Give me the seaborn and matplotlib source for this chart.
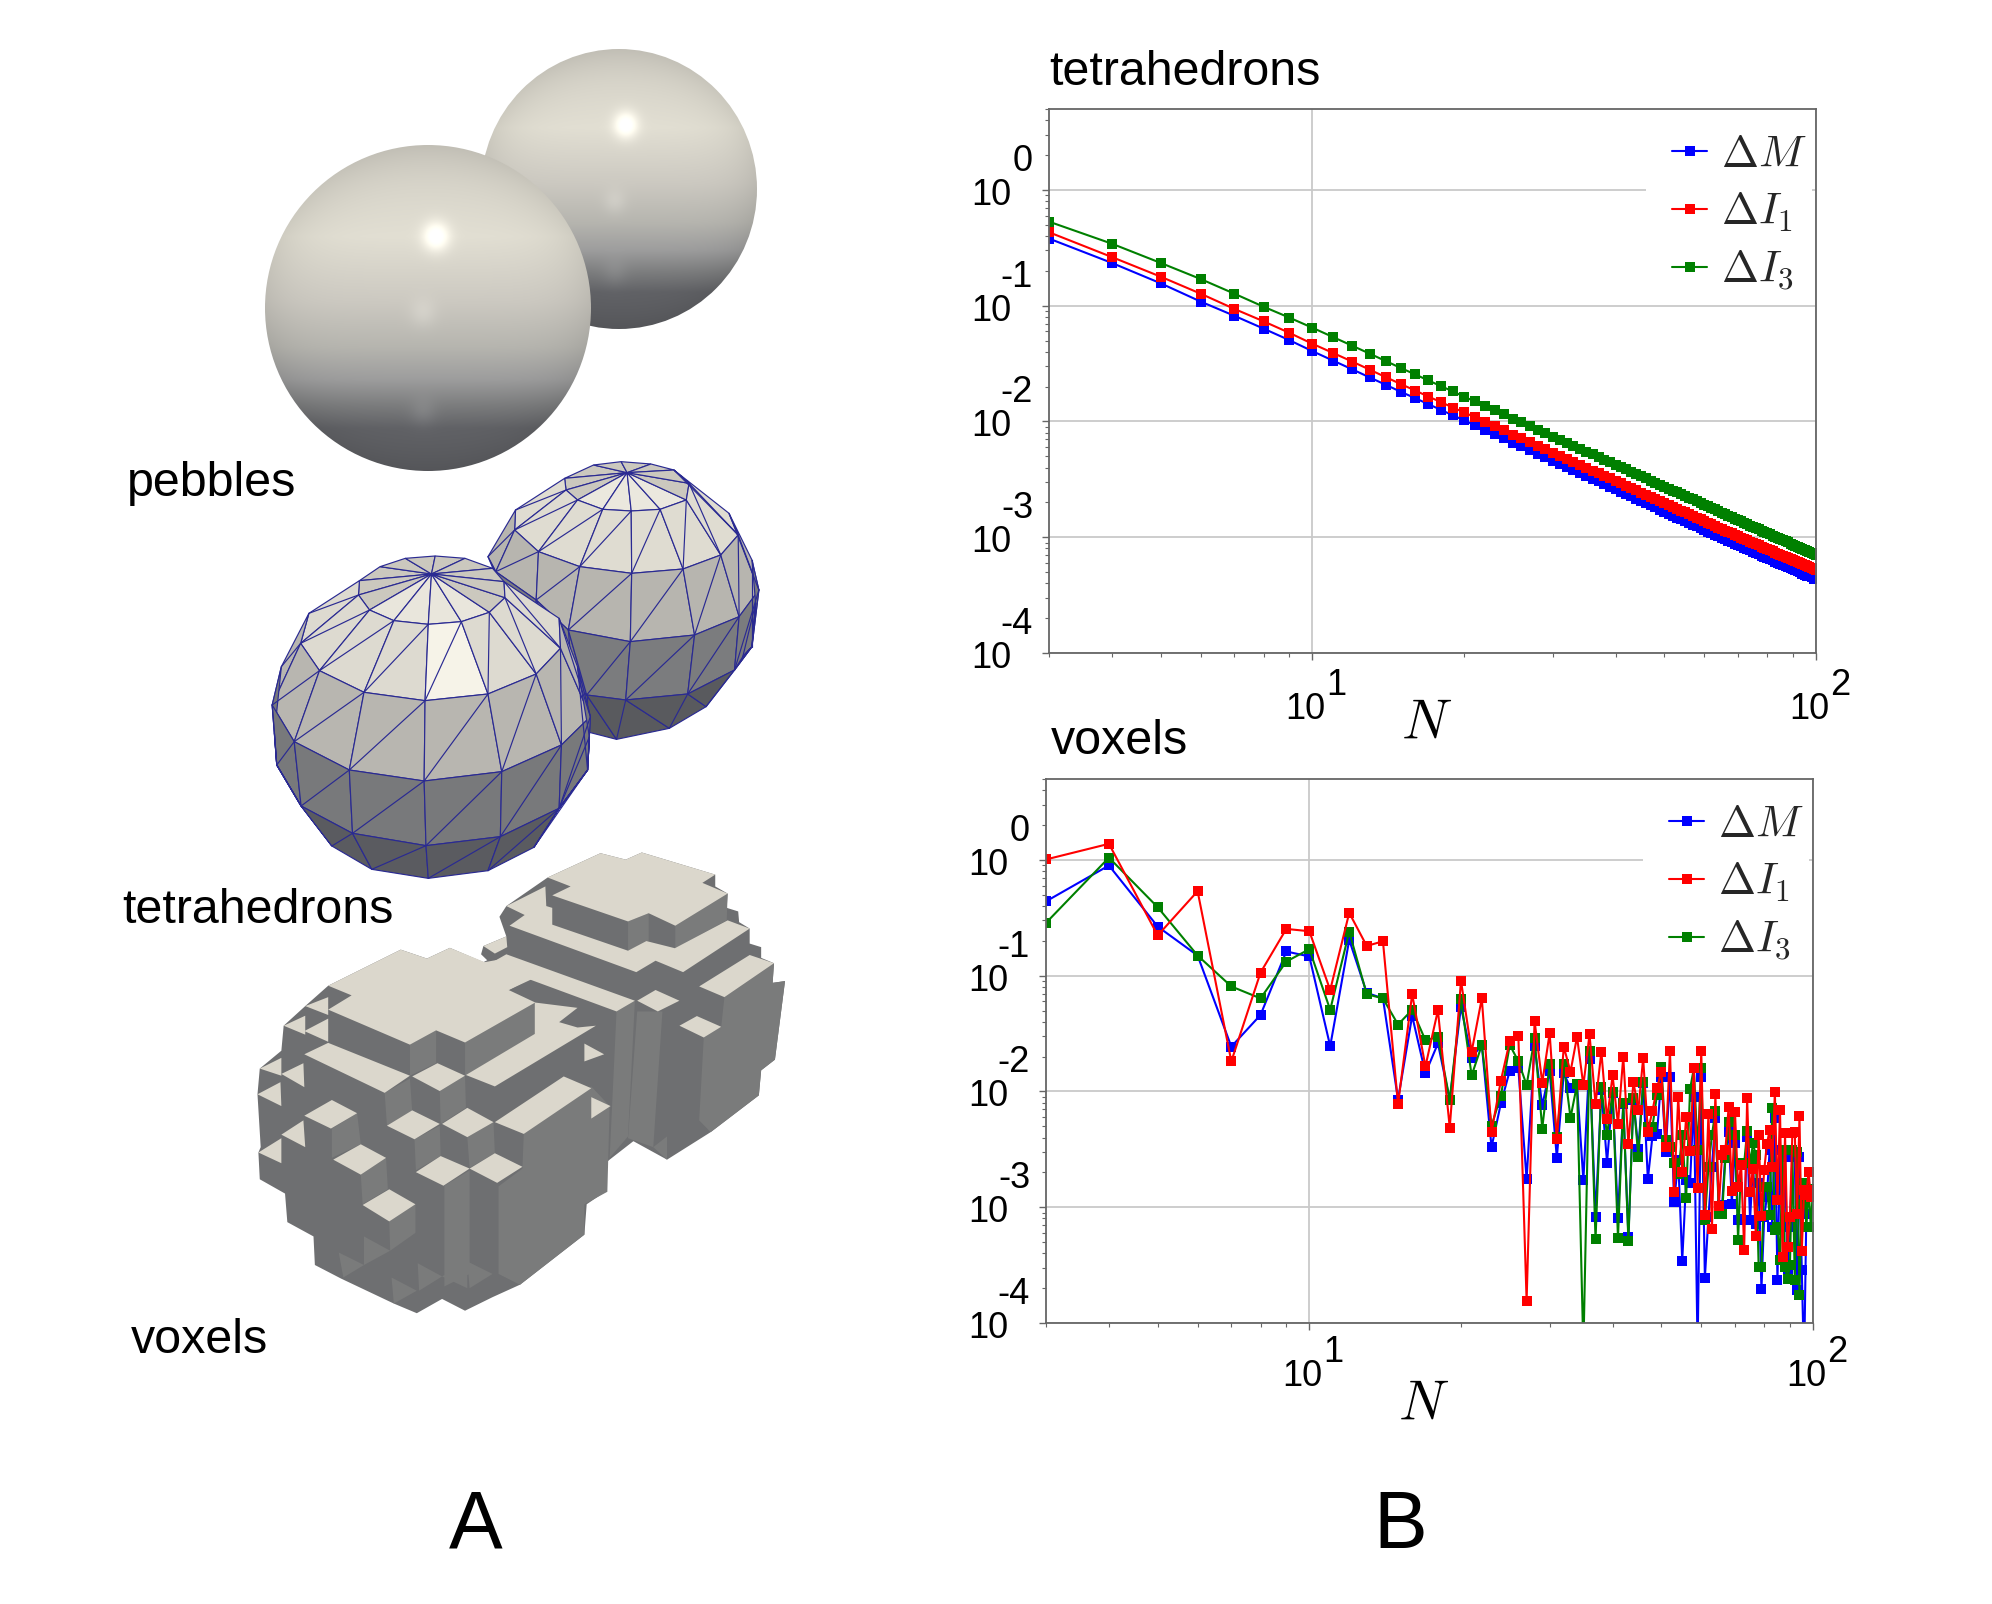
import numpy as np
import pandas as pd
import matplotlib
matplotlib.use("Agg")
import matplotlib.pyplot as plt
from matplotlib.patches import Ellipse, Polygon, Rectangle
import matplotlib.ticker as mticker
import seaborn as sns

N = list(range(3, 101))
LBL_M, LBL_I1, LBL_I3 = r"$\Delta M$", r"$\Delta I_1$", r"$\Delta I_3$"
BLUE, RED, GREEN = "#0000ff", "#ff0000", "#008000"

tet_M = [.38,.234,.156,.1086,.0818,.0634,.0504,.0405,
 .0335,.0282,.0240,.0207,.0180,.0159,.0141,.0126,.0113,.01025,
 .00930,.00848,.00776,.00713,.00657,.00608,.00564,.00525,.00490,.00458,
 .00429,.00403,.00380,.00358,.00338,.00320,.00303,.00287,.00273,.00260,
 .00248,.00236,.00225,.00215,.00206,.00197,.00189,.00181,.00173,.00166,
 .00160,.00154,.00148,.00143,.00138,.00133,.00128,.00124,.00120,.00116,
 .00112,.00108,.00105,.00102,.000988,.000959,.000931,.000904,.000879,.000855,
 .000832,.000810,.000789,.000769,.000749,.000730,.000712,.000694,.000677,.000661,
 .000646,.000631,.000616,.000602,.000589,.000576,.000563,.000551,.000539,.000528,
 .000517,.000506,.000496,.000486,.000476,.000467,.000458,.000449,.000440,.000432]
tet_I1 = [.431,.263,.178,.127,.0938,.0733,.0583,.0469,
 .0390,.0329,.0280,.0241,.0210,.0185,.0164,.0147,.0132,.0120,
 .0109,.00993,.00909,.00836,.00771,.00713,.00662,.00616,.00575,.00538,
 .00504,.00474,.00447,.00421,.00398,.00377,.00357,.00339,.00322,.00307,
 .00292,.00279,.00266,.00254,.00243,.00233,.00223,.00214,.00205,.00197,
 .00190,.00183,.00176,.00170,.00164,.00158,.00153,.00148,.00143,.00138,
 .00133,.00129,.00125,.00121,.00118,.00114,.00111,.00108,.00105,.00102,
 .000993,.000966,.000941,.000917,.000894,.000872,.000851,.000830,.000811,.000792,
 .000773,.000755,.000738,.000721,.000705,.000690,.000675,.000661,.000647,.000633,
 .000620,.000607,.000595,.000583,.000572,.000561,.000550,.000539,.000529,.000519]
tet_I3 = [.532,.343,.234,.170,.127,.098,.0789,.0645,
 .0535,.0451,.0385,.0332,.0289,.0255,.0226,.0202,.0182,.0164,
 .0149,.0136,.0125,.0115,.0106,.00980,.00910,.00848,.00792,.00741,
 .00695,.00654,.00616,.00581,.00549,.00520,.00493,.00468,.00445,.00424,
 .00404,.00385,.00368,.00352,.00337,.00322,.00309,.00296,.00284,.00273,
 .00263,.00253,.00244,.00235,.00227,.00219,.00212,.00205,.00198,.00191,
 .00185,.00179,.00174,.00168,.00163,.00158,.00154,.00149,.00145,.00141,
 .00137,.00133,.00130,.00126,.00123,.00120,.00117,.00114,.00111,.00108,
 .00106,.00103,.00101,.000985,.000963,.000941,.000921,.000901,.000881,.000863,
 .000845,.000827,.000810,.000794,.000778,.000762,.000747,.000733,.000719,.000705]

# voxel errors, read as decades on the log axis
vox_M_log = [-.358,-.048,-.576,-.826,-1.613,-1.339,-.791,-.834,-1.609,-.691,-1.148,-1.196,-2.07,-1.347,-1.843,-1.585,-2.074,
 -1.268,-1.709,-1.599,-2.481,-2.104,-1.821,-1.801,-2.758,-1.608,-2.121,
 -1.824,-2.573,-1.844,-1.968,-1.945,-2.769,-1.717,-3.083,-1.988,-2.614,
 -2.017,-3.092,-2.109,-3.256,-2.075,-2.498,-1.931,-2.758,-2.386,-2.369,
 -1.873,-2.521,-1.873,-2.954,-2.594,-3.461,-2.766,-2.795,-2.046,-4.236,
 -1.873,-3.611,-3.083,-2.651,-2.233,-2.997,-2.983,-2.536,-2.349,-2.968,
 -2.449,-3.112,-3.098,-3.112,-2.392,-3.112,-2.622,-3.141,-2.795,-3.709,
 -3.083,-2.911,-2.507,-3.170,-2.228,-3.631,-2.507,-3.170,-2.565,-3.559,
 -3.170,-2.565,-2.565,-3.717,-2.565,-3.545,-4.380,-3.055,-2.911,-2.911,-2.853]
vox_I1_log = [.004,.139,-.652,-.27,-1.74,-.973,-.596,-.616,-1.124,-.457,-.743,-.703,-2.11,-1.16,-1.784,-1.299,-2.312,
 -1.043,-1.657,-1.196,-2.346,-1.908,-1.565,-1.519,-3.807,-1.389,-1.925,
 -1.496,-2.409,-1.614,-1.830,-1.527,-1.948,-1.507,-2.109,-1.657,-2.242,
 -1.862,-2.282,-1.700,-2.455,-1.919,-2.156,-1.712,-2.346,-2.167,-1.971,
 -1.830,-2.478,-1.648,-2.867,-2.049,-2.694,-2.219,-2.513,-1.795,-2.833,
 -1.648,-3.063,-2.193,-3.187,-2.023,-2.988,-2.550,-2.507,-2.132,-2.859,
 -2.176,-2.824,-2.637,-3.366,-2.058,-2.867,-2.671,-3.245,-2.372,-3.075,
 -2.680,-2.455,-2.334,-2.651,-2.003,-2.939,-2.156,-3.429,-2.363,-3.343,
 -3.083,-2.357,-2.349,-3.055,-2.210,-3.375,-2.853,-2.896,-2.694,-2.911,-2.853]
vox_I3_log = [-.544,.02,-.409,-.826,-1.093,-1.196,-.878,-.771,-1.295,-.62,-1.16,-1.196,-1.422,-1.295,-1.557,-1.53,-2.074,
 -1.205,-1.862,-1.599,-2.297,-2.037,-1.599,-1.738,-1.945,-1.542,-2.320,
 -1.766,-2.392,-1.764,-2.228,-1.939,-4.236,-1.648,-3.277,-1.960,-2.380,
 -2.003,-3.265,-2.104,-3.291,-2.060,-2.565,-1.922,-2.305,-2.305,-2.032,
 -1.787,-2.421,-2.478,-2.622,-2.717,-2.372,-2.919,-1.980,-1.801,-2.507,
 -1.801,-3.112,-2.651,-2.377,-2.170,-3.055,-3.055,-2.579,-2.268,-2.377,
 -2.377,-3.285,-2.622,-2.622,-2.340,-2.622,-2.449,-2.550,-3.516,-3.516,
 -2.824,-2.824,-3.063,-2.147,-3.199,-3.170,-3.458,-2.507,-3.516,-3.617,
 -3.501,-2.507,-3.631,-2.521,-3.755,-2.968,-2.795,-3.170,-2.839,-3.170,-2.839]

Y_DECADES = [0, -1, -2, -3, -4]
X_DECADES = [1, 2]

sns.set_theme(style="ticks")
plt.rcParams["font.family"] = ["Liberation Sans", "DejaVu Sans"]
plt.rcParams["mathtext.fontset"] = "cm"

W, H = 1992, 1604
fig = plt.figure(figsize=(W / 100, H / 100), dpi=100, facecolor="white")

# ---------------- panel A: rendered bodies -----------------
bg = fig.add_axes([0, 0, 1, 1], zorder=0)
bg.set_axis_off()

STOP_T = [0, .12, .28, .48, .62, .72, .80, .87, 1]
STOP_C = ["#d2cfc5", "#dad7cc", "#e2dfd3", "#ccc9c1", "#b6b5af", "#9d9d9d", "#7c7d7e", "#626367", "#5c5d61"]
STOP_RGB = np.array([matplotlib.colors.to_rgb(c) for c in STOP_C])


def sphere(cx, cy, rx, ry, spots):
    h = int(2 * ry) + 2
    w = int(2 * rx) + 2
    yy, xx = np.mgrid[-1:1:h * 1j, -1:1:w * 1j]
    t = (yy + 1) / 2
    img = np.stack([np.interp(t, STOP_T, STOP_RGB[:, i]) for i in range(3)], -1)
    r2 = np.clip(xx ** 2 + yy ** 2, 0, 1)
    img = img * (1 - 0.08 * r2 ** 3)[..., None]
    for sx, sy, size, amp in spots:
        g = amp * np.exp(-(((xx - sx) / size) ** 2 + ((yy - sy) / (size * 1.1)) ** 2))
        img = img + g[..., None]
    im = bg.imshow(np.clip(img, 0, 1), extent=(cx - rx, cx + rx, cy + ry, cy - ry),
                   aspect="auto", interpolation="bilinear", zorder=1)
    im.set_clip_path(Ellipse((cx, cy), 2 * rx, 2 * ry, transform=bg.transData))


sphere(619, 189, 138, 140, [(.05, -.46, .085, .22), (-.03, .09, .08, .05), (-.03, .60, .09, .04)])
sphere(428, 308, 163, 163, [(.05, -.44, .08, .22), (-.03, .03, .08, .05), (-.03, .64, .08, .05)])


def z5(pts):
    return [(100 + x / 2.178, 450 + y / 3) for x, y in pts]


def z6(pts):
    return [(100 + x / 2.178, 840 + y / 2.8) for x, y in pts]


EDGE = "#2a2a92"


def mesh(apex, back, rings, band_cols, back_col, cap_col, bright, z):
    for a, b in zip(back[:-1], back[1:]):
        bg.add_patch(Polygon(z5([apex, a, b]), fc=back_col, ec=EDGE, lw=.85, zorder=z))
    r1 = rings[0]
    for i, (a, b) in enumerate(zip(r1[:-1], r1[1:])):
        col = cap_col if 2 <= i <= 5 else back_col
        bg.add_patch(Polygon(z5([apex, a, b]), fc=col, ec=EDGE, lw=.85, zorder=z))
    for k in range(len(rings) - 1):
        ra, rb = rings[k], rings[k + 1]
        for i in range(len(ra) - 1):
            col = band_cols[k]
            if k == 0 and bright and i == 4:
                col = "#f6f3e8"
            bg.add_patch(Polygon(z5([ra[i], ra[i + 1], rb[i + 1], rb[i]]), fc=col, ec=EDGE, lw=.85, zorder=z))
            bg.plot(*zip(*z5([ra[i + 1], rb[i]])), color=EDGE, lw=.85, zorder=z + .1)


BACK_APEX = (1148, 68)
BACK_TOP = [(1012, 85), (1075, 45), (1135, 35), (1200, 42), (1250, 60)]
BACK_RINGS = [
    [(1012, 85), (1015, 120), (1040, 150), (1095, 178), (1157, 183), (1220, 178), (1277, 150), (1283, 100), (1250, 60)],
    [(905, 180), (903, 240), (955, 305), (1045, 350), (1158, 370), (1270, 357), (1352, 315), (1390, 255), (1370, 190)],
    [(845, 320), (862, 365), (950, 450), (1020, 540), (1155, 575), (1295, 555), (1392, 500), (1435, 420), (1420, 330)],
    [(900, 500), (930, 600), (1030, 700), (1060, 735), (1145, 750), (1280, 732), (1382, 660), (1420, 590), (1428, 460)],
    [(1000, 700), (1040, 800), (1060, 845), (1125, 868), (1240, 835), (1320, 770), (1382, 660), (1400, 620), (1420, 590)],
]
FRONT_APEX = (722, 372)
FRONT_TOP = [(565, 392), (610, 350), (665, 325), (730, 318), (795, 325), (855, 355), (880, 395)]
FRONT_RINGS = [
    [(565, 392), (563, 435), (587, 480), (640, 512), (715, 523), (787, 515), (848, 487), (882, 443), (880, 395)],
    [(455, 490), (437, 580), (478, 662), (575, 727), (708, 752), (845, 732), (950, 672), (1003, 595), (1000, 505)],
    [(395, 650), (375, 765), (423, 875), (543, 960), (706, 993), (875, 965), (1005, 885), (1068, 800), (1040, 650)],
    [(380, 850), (385, 945), (438, 1068), (550, 1150), (710, 1187), (872, 1160), (1000, 1075), (1062, 960), (1066, 860)],
    [(385, 945), (438, 1068), (505, 1188), (592, 1258), (715, 1285), (845, 1262), (945, 1192), (1000, 1075), (1062, 960)],
]
mesh(BACK_APEX, BACK_TOP, BACK_RINGS, ["#dfdcd1", "#b7b5af", "#7b7c7e", "#595a5e"], "#cbc8be", "#ebe8de", False, 3)
mesh(FRONT_APEX, FRONT_TOP, FRONT_RINGS, ["#dddad0", "#b8b6b0", "#78797b", "#5a5b60"], "#cbc8be", "#e9e6dc", True, 5)

VOX_TOP = "#dbd7cc"
VOX_DARK = "#6e6f71"
VOX_LITE = "#7a7b7b"
VOX_BACK = [(830, 320), (835, 297), (885, 270), (870, 215), (885, 185), (975, 105), (1090, 37), (1145, 55), (1180, 35),
            (1340, 97), (1340, 130), (1367, 150), (1365, 190), (1390, 200), (1392, 230), (1415, 248), (1415, 290),
            (1440, 300), (1440, 330), (1468, 345), (1465, 400), (1492, 395), (1470, 615), (1440, 645), (1435, 715),
            (1330, 818), (1235, 895), (1150, 835), (1105, 900), (1000, 800), (850, 345)]
VOX_FRONT = [(497, 408), (447, 465), (400, 520), (395, 590), (348, 640), (343, 712), (350, 860), (345, 875),
             (348, 950), (403, 990), (408, 1070), (465, 1110), (468, 1190), (525, 1228), (640, 1298), (690, 1325),
             (745, 1285), (795, 1318), (855, 1280), (915, 1245), (1055, 1105), (1060, 1020), (1100, 985),
             (1105, 900), (1165, 840), (1165, 450), (1040, 450), (950, 400), (885, 310), (835, 342), (762, 302),
             (712, 332), (655, 307)]
VOX_LITE_FACES = [
    [(923, 823), (1070, 690), (1110, 745), (1105, 985), (1055, 1020), (1055, 1105), (915, 1245), (868, 1215), (868, 970), (920, 920)],
    [(675, 573), (732, 533), (732, 625), (675, 660)], [(795, 567), (948, 455), (948, 545), (795, 660)],
    [(1150, 228), (1195, 205), (1195, 283), (1150, 310)], [(1253, 240), (1367, 150), (1365, 225), (1253, 303)],
    [(1360, 440), (1468, 345), (1465, 400), (1492, 395), (1470, 615), (1440, 645), (1435, 715), (1330, 818), (1305, 785), (1315, 553), (1353, 523)],
    [(1170, 480), (1225, 480), (1205, 860), (1150, 835)], [(505, 808), (560, 765), (568, 852), (505, 890)],
    [(630, 1068), (687, 1020), (687, 1100), (632, 1150)], [(750, 968), (805, 925), (805, 1215), (750, 1250)],
    [(620, 708), (675, 668), (680, 760), (625, 800)], [(740, 703), (795, 660), (797, 750), (742, 795)],
    [(685, 838), (740, 800), (742, 885), (688, 925)], [(568, 937), (623, 890), (627, 978), (572, 1020)],
    [(800, 832), (857, 790), (860, 877), (805, 918)], [(1125, 480), (1165, 450), (1150, 830), (1110, 890)],
    [(520, 1155), (575, 1190), (530, 1225)], [(575, 1110), (632, 1150), (575, 1190)],
    [(635, 1225), (690, 1262), (640, 1298)], [(692, 1185), (745, 1222), (695, 1262)],
    [(745, 1222), (800, 1180), (800, 1255)], [(800, 1180), (855, 1215), (805, 1255)],
    [(870, 1215), (915, 1170), (915, 1245)], [(1205, 860), (1235, 830), (1235, 895)],
]
VOX_TOP_FACES = [
    [(497, 408), (655, 307), (712, 332), (762, 302), (838, 342), (890, 330), (940, 390), (890, 420), (948, 455), (795, 567), (732, 533), (675, 573), (497, 475), (548, 435)],
    [(975, 105), (1090, 37), (1145, 55), (1180, 35), (1340, 97), (1312, 120), (1367, 150), (1253, 240), (1195, 205), (1150, 228), (985, 155), (1025, 130)],
    [(885, 185), (970, 130), (972, 185), (985, 190), (985, 237), (1150, 310), (1190, 283), (1252, 303), (1367, 225), (1415, 248), (1270, 370), (1210, 338), (1168, 370), (892, 240), (925, 210)],
    [(855, 342), (885, 320), (1165, 450), (1125, 480), (935, 390), (890, 420)],
    [(797, 658), (947, 543), (947, 455), (1040, 470), (1000, 510), (1040, 525), (1080, 520), (860, 690)],
    [(445, 600), (497, 568), (675, 660), (620, 708)],
    [(445, 772), (505, 728), (560, 765), (503, 808)], [(625, 800), (680, 757), (740, 795), (685, 838)],
    [(745, 795), (800, 750), (857, 790), (800, 832)], [(508, 895), (568, 852), (623, 890), (568, 937)],
    [(688, 930), (742, 885), (805, 920), (748, 968)], [(805, 920), (860, 877), (920, 915), (865, 960)],
    [(572, 1022), (630, 978), (687, 1020), (630, 1068)], [(680, 662), (735, 625), (795, 660), (740, 703)],
    [(860, 790), (1010, 662), (1070, 695), (923, 823)],
    [(395, 825), (443, 785), (447, 860)], [(345, 875), (395, 835), (395, 905)], [(343, 712), (393, 678), (395, 745)],
    [(395, 655), (443, 625), (445, 692)], [(400, 520), (447, 492), (447, 545)], [(445, 535), (497, 500), (497, 565)],
    [(348, 640), (395, 610), (395, 660)], [(447, 465), (497, 440), (497, 490)],
    [(1055, 570), (1098, 600), (1055, 620)], [(1070, 720), (1112, 745), (1070, 780)],
    [(1170, 450), (1210, 420), (1262, 450), (1215, 480)], [(1262, 520), (1300, 493), (1353, 523), (1315, 553)],
    [(1305, 410), (1415, 322), (1468, 345), (1360, 440)], [(835, 297), (885, 270), (887, 300), (860, 318)],
]
bg.add_patch(Polygon(z6(VOX_BACK), fc=VOX_DARK, ec="none", zorder=7))
bg.add_patch(Polygon(z6(VOX_FRONT), fc=VOX_DARK, ec="none", zorder=7.5))
for face in VOX_LITE_FACES:
    bg.add_patch(Polygon(z6(face), fc=VOX_LITE, ec="none", zorder=8))
for face in VOX_TOP_FACES:
    bg.add_patch(Polygon(z6(face), fc=VOX_TOP, ec="none", zorder=9))

bg.set_xlim(0, W)
bg.set_ylim(H, 0)

TXT = dict(color="black", fontsize=34.8, va="baseline", zorder=20)
bg.text(127, 496, "pebbles", **TXT)
bg.text(122, 923, "tetrahedrons", **TXT)
bg.text(131, 1353, "voxels", **TXT)
bg.text(476, 1548, "A", color="black", fontsize=58, ha="center", va="baseline")
bg.text(1400, 1548, "B", color="black", fontsize=58, ha="center", va="baseline")


# ---------------- panel B: convergence plots -----------------
def panel(rect, title, title_xy, data, order, n_base, n_y, leg_anchor):
    x0, y0, x1, y1 = rect
    ax = fig.add_axes([x0 / W, 1 - y1 / H, (x1 - x0) / W, (y1 - y0) / H], zorder=2)
    ax.patch.set_alpha(0)
    ax.set_xscale("log")
    ax.set_yscale("log")
    df = pd.DataFrame({"N": N * 3,
                       "err": list(data[LBL_M]) + list(data[LBL_I1]) + list(data[LBL_I3]),
                       "series": [LBL_M] * 98 + [LBL_I1] * 98 + [LBL_I3] * 98})
    sns.lineplot(data=df, x="N", y="err", hue="series", hue_order=order,
                 palette={LBL_M: BLUE, LBL_I1: RED, LBL_I3: GREEN}, marker="s", markersize=7,
                 markeredgewidth=0, linewidth=1.5, errorbar=None, estimator=None, legend=False, ax=ax)
    ax.set_xlim(3, 100)
    ax.set_ylim(1e-4, 5)
    ax.set_xlabel("")
    ax.set_ylabel("")
    ax.grid(True, which="major", color="#c9c9c9", lw=1.3)
    ax.set_axisbelow(True)
    for s in ax.spines.values():
        s.set_visible(True)
        s.set_color("#666666")
        s.set_linewidth(1.3)
    ax.xaxis.set_major_locator(mticker.FixedLocator([10 ** e for e in X_DECADES]))
    ax.yaxis.set_major_locator(mticker.FixedLocator([10.0 ** e for e in Y_DECADES]))
    ax.xaxis.set_minor_locator(mticker.LogLocator(base=10, subs=range(2, 10), numticks=20))
    ax.yaxis.set_minor_locator(mticker.LogLocator(base=10, subs=range(2, 10), numticks=20))
    ax.xaxis.set_major_formatter(mticker.NullFormatter())
    ax.yaxis.set_major_formatter(mticker.NullFormatter())
    ax.xaxis.set_minor_formatter(mticker.NullFormatter())
    ax.yaxis.set_minor_formatter(mticker.NullFormatter())
    ax.tick_params(which="major", length=5, width=1, color="#666666")
    ax.tick_params(which="minor", length=3, width=.8, color="#666666")

    kw = dict(xycoords=ax.get_yaxis_transform(), textcoords="offset pixels", color="black",
              fontsize=26, va="baseline", annotation_clip=False)
    for e in Y_DECADES:
        ax.annotate("10", xy=(0, 10.0 ** e), xytext=(-38, -15), ha="right", **kw)
        ax.annotate(str(e), xy=(0, 10.0 ** e), xytext=(-16, 19), ha="right", **kw)
    kw["xycoords"] = ax.get_xaxis_transform()
    for e in X_DECADES:
        ax.annotate("10", xy=(10 ** e, 0), xytext=(13, -n_base), ha="right", **kw)
        ax.annotate(str(e), xy=(10 ** e, 0), xytext=(14, -n_base + 24), ha="left", **kw)
    ax.annotate(r"$N$", xy=(.492, 0), xycoords="axes fraction", xytext=(0, -n_y),
                textcoords="offset pixels", fontsize=40, color="black", ha="center", va="baseline",
                annotation_clip=False)
    bg.text(title_xy[0], title_xy[1], title, color="black", fontsize=34.8, va="baseline")

    # white area behind the legend: the 10^0 grid line stops at its left edge
    ax.add_patch(Rectangle((.778, .66), .217, .33, transform=ax.transAxes, fc="white", ec="none", zorder=1.5))
    line_by = dict(zip(order, ax.get_lines()))
    ax.legend([line_by[k] for k in (LBL_M, LBL_I1, LBL_I3)], [LBL_M, LBL_I1, LBL_I3],
              loc="upper right", bbox_to_anchor=leg_anchor, fontsize=32, frameon=False,
              borderpad=.1, borderaxespad=0, labelspacing=.33,
              handlelength=.8, handletextpad=.3, markerscale=1)
    return ax


tet_data = {LBL_M: tet_M, LBL_I1: tet_I1, LBL_I3: tet_I3}
vox_data = {LBL_M: 10.0 ** np.array(vox_M_log), LBL_I1: 10.0 ** np.array(vox_I1_log), LBL_I3: 10.0 ** np.array(vox_I3_log)}
panel((1049, 109, 1816, 653), "tetrahedrons", (1049, 85), tet_data, [LBL_M, LBL_I1, LBL_I3], 66, 86, (.993, .961))
panel((1046, 779, 1813, 1323), "voxels", (1051, 754), vox_data, [LBL_M, LBL_I3, LBL_I1], 63, 97, (.993, .961))

fig.savefig("out.png", dpi=100, facecolor="white")
